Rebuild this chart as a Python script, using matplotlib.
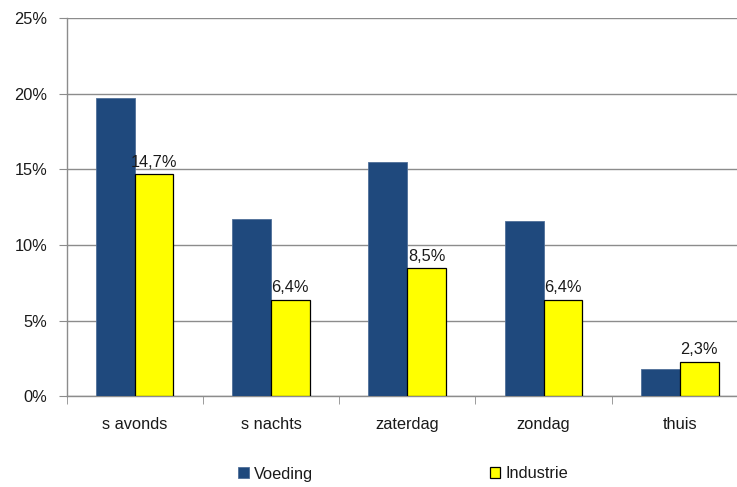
import matplotlib
matplotlib.use('Agg')
import matplotlib.pyplot as plt
import numpy as np

categories = ['s avonds', 's nachts', 'zaterdag', 'zondag', 'thuis']
voeding = [19.7, 11.7, 15.5, 11.6, 1.8]
industrie = [14.7, 6.4, 8.5, 6.4, 2.3]
yticks = [0, 5, 10, 15, 20, 25]

plt.rcParams['font.family'] = ['Liberation Sans', 'DejaVu Sans']
fs = 11.8

fig = plt.figure(figsize=(7.37, 4.87), dpi=100)
ax = fig.add_axes([66.5 / 737, 1 - 396.4 / 487, (748 - 66.5) / 737, (396.4 - 18) / 487])

x = np.arange(len(categories))
w = 0.285
b1 = ax.bar(x - w / 2, voeding, w, color='#1F497D', edgecolor='#4F6F99', linewidth=0.6,
            label='Voeding', zorder=3)
b2 = ax.bar(x + w / 2, industrie, w, color='#FFFF00', edgecolor='black', linewidth=0.9,
            label='Industrie', zorder=3)

for rect, v in zip(b2, industrie):
    ax.annotate(f'{v:.1f}%'.replace('.', ','),
                (rect.get_x() + rect.get_width() / 2, rect.get_height()),
                xytext=(0, 3), textcoords='offset points',
                ha='center', va='bottom', fontsize=fs, color='#1a1a1a')

ax.set_xlim(-0.5, len(categories) - 0.5)
ax.set_ylim(0, 25)
ax.set_yticks(yticks)
ax.set_yticklabels([f'{t}%' for t in yticks], fontsize=fs, color='#1a1a1a')
ax.yaxis.grid(True, color='#8c8c8c', linewidth=1, zorder=0)

ax.set_xticks(x)
ax.set_xticklabels(categories, fontsize=fs, color='#1a1a1a')
ax.set_xticks(np.arange(len(categories) + 1) - 0.5, minor=True)
ax.tick_params(axis='x', which='major', length=0, pad=14.5)
ax.tick_params(axis='x', which='minor', length=6, color='#8c8c8c', direction='out')
ax.tick_params(axis='y', length=6, color='#8c8c8c', pad=8)

for s in ['top', 'right']:
    ax.spines[s].set_visible(False)
for s in ['left', 'bottom']:
    ax.spines[s].set_color('#8c8c8c')
    ax.spines[s].set_linewidth(1)

leg = fig.legend(handles=[b1, b2], loc='center', bbox_to_anchor=(403 / 737, 1 - 474 / 487),
                 ncol=2, frameon=False, handlelength=0.65, handleheight=0.65,
                 handletextpad=0.3, columnspacing=10.8, fontsize=fs)
for t in leg.get_texts():
    t.set_color('#1a1a1a')

fig.savefig('out.png', dpi=100)
